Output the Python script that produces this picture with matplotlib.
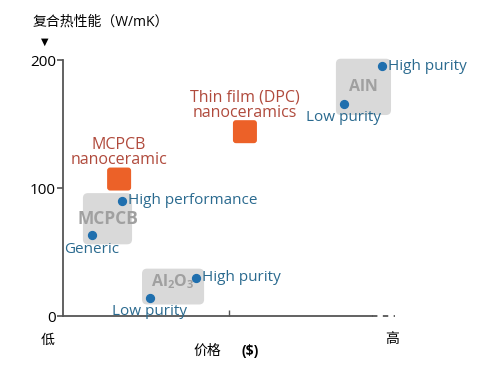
import matplotlib.pyplot as plt
from matplotlib.patches import FancyBboxPatch

plt.rcParams['font.family'] = ['Open Sans', 'Noto Sans CJK SC', 'DejaVu Sans']
plt.rcParams['mathtext.fontset'] = 'custom'
plt.rcParams['mathtext.rm'] = 'Open Sans'
plt.rcParams['mathtext.default'] = 'regular'

# material groups (grey boxes): price range and conductivity range
groups = ['MCPCB', 'Al$_2$O$_3$', 'AlN']
group_x = [(0.60, 2.08), (2.38, 4.25), (8.22, 9.88)]
group_y = [(56, 96), (9, 37), (157, 201)]

# blue points
pt_labels = ['Generic', 'High performance', 'Low purity', 'High purity', 'Low purity', 'High purity']
pt_x = [0.87, 1.78, 2.62, 4.01, 8.46, 9.61]
pt_y = [63, 90, 14, 30, 166, 195]
pt_side = ['below', 'right', 'below', 'right', 'below', 'right']

# orange nanoceramic products
nano_labels = ['MCPCB\nnanoceramic', 'Thin film (DPC)\nnanoceramics']
nano_x = [1.69, 5.48]
nano_y = [107, 144]

blue = '#1f6fae'
blue_txt = '#2a6a8f'
orange = '#ec6128'
red_txt = '#b04a3c'
grey_box = '#d9d9d9'
grey_txt = '#a0a0a0'
axis_col = '#555555'

fig = plt.figure(figsize=(5.02, 3.69), dpi=100)
ax = fig.add_axes([63/502, 1 - 316/369, 332/502, 256/369])
ax.set_xlim(0, 10)
ax.set_ylim(0, 200)

# px per data unit, for rounding boxes
sx = 33.2
sy = 1.28
asp = sx / sy

for name, (x0, x1), (y0, y1) in zip(groups, group_x, group_y):
    r = 5 / sx
    box = FancyBboxPatch((x0 + r, y0 + r * asp), (x1 - x0) - 2 * r, (y1 - y0) - 2 * r * asp,
                         boxstyle='round,pad=%f,rounding_size=%f' % (r, r),
                         mutation_aspect=asp, fc=grey_box, ec='none', clip_on=False, zorder=1)
    ax.add_patch(box)
    yoff = 4 if '_' in name else 0
    fs = 12.5 if name == 'MCPCB' else 11.5
    ax.text((x0 + x1) / 2, (y0 + y1) / 2 + yoff, name, ha='center', va='center',
            fontsize=fs, fontweight='bold', color=grey_txt, zorder=2)

ax.scatter(pt_x, pt_y, s=32, color=blue, zorder=3, clip_on=False)
for lab, x, y, side in zip(pt_labels, pt_x, pt_y, pt_side):
    if side == 'right':
        ax.annotate(lab, (x, y), xytext=(4, 0), textcoords='offset points',
                    ha='left', va='center', fontsize=11, color=blue_txt)
    else:
        ax.annotate(lab, (x, y), xytext=(0, -10), textcoords='offset points',
                    ha='center', va='center', fontsize=11, color=blue_txt)

w = 24 / sx
h = 23 / sy
for lab, x, y in zip(nano_labels, nano_x, nano_y):
    r = 3 / sx
    sq = FancyBboxPatch((x - w / 2 + r, y - h / 2 + r * asp), w - 2 * r, h - 2 * r * asp,
                        boxstyle='round,pad=%f,rounding_size=%f' % (r, r),
                        mutation_aspect=asp, fc=orange, ec='none', zorder=3)
    ax.add_patch(sq)
    ax.annotate(lab, (x, y), xytext=(0, 8), textcoords='offset points',
                ha='center', va='bottom', fontsize=11.5, color=red_txt, linespacing=0.95)

# axes
for s in ['top', 'right', 'bottom']:
    ax.spines[s].set_visible(False)
ax.spines['left'].set_color(axis_col)
ax.spines['left'].set_linewidth(1.3)
ax.plot([0, 0.93], [0, 0], transform=ax.transAxes, color=axis_col, lw=1.3, clip_on=False)
ax.plot([0.93, 1.0], [0, 0], transform=ax.transAxes, color=axis_col, lw=1.3, ls=(0, (3, 3)), clip_on=False)

ax.set_yticks([0, 100, 200])
ax.tick_params(axis='y', length=4, width=1.2, color=axis_col, labelsize=11, pad=1)
ax.set_xticks([5])
ax.set_xticklabels([''])
ax.tick_params(axis='x', direction='in', length=4, width=1, color=axis_col)

fig.text(33/502, 1 - 22/369, '复合热性能（W/mK）', ha='left', va='center', fontsize=10)
fig.text(45/502, 1 - 42/369, '▼', ha='center', va='center', fontsize=7, family='DejaVu Sans')
fig.text(48/502, 1 - 340/369, '低', ha='center', va='center', fontsize=10)
fig.text(392/502, 1 - 340/369, '高', ha='center', va='center', fontsize=10)
fig.text(207/502, 1 - 351/369, '价格', ha='center', va='center', fontsize=10)
fig.text(250/502, 1 - 351/369, '($)', ha='center', va='center', fontsize=10, fontweight='bold')

fig.savefig('out.png', dpi=100)
